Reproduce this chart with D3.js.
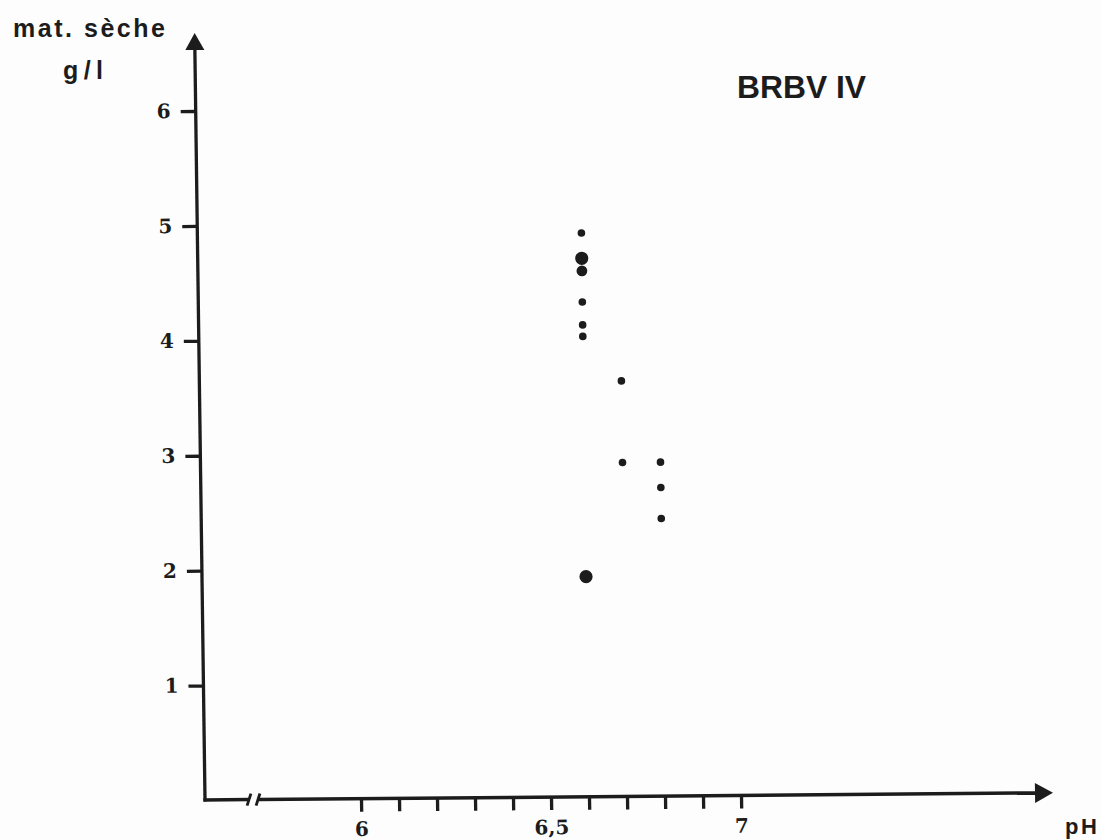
<!DOCTYPE html>
<html>
<head>
<meta charset="utf-8">
<script src="https://cdn.jsdelivr.net/npm/d3@7"></script>
<style>
  html, body { margin: 0; padding: 0; background: #fdfdfd; }
  svg { display: block; }
</style>
</head>
<body>
<svg id="chart" width="1101" height="840"></svg>
<script>
// pH and dry matter (g/l) of the BRBV IV samples
const phValues   = [6.6, 6.6, 6.6, 6.6, 6.6, 6.6, 6.6, 6.7, 6.7, 6.8, 6.8, 6.8];
const dryMatter  = [4.91, 4.69, 4.58, 4.31, 4.11, 4.01, 1.92, 3.62, 2.91, 2.91, 2.69, 2.42];
const sampleCount = [1, 3, 2, 1, 1, 1, 3, 1, 1, 1, 1, 1];

const yTickValues = [1, 2, 3, 4, 5, 6];
const xTickValues = [6, 6.1, 6.2, 6.3, 6.4, 6.5, 6.6, 6.7, 6.8, 6.9, 7];
const xLabelValues = [6, 6.5, 7];
const xLabelText = ["6", "6,5", "7"];

const ink = "#1c1c1c";
const svg = d3.select("#chart");

// axis origin (corner of the two axes)
const ox = 205, oy = 800;

const x = d3.scaleLinear().domain([6, 7]).range([361, 741]);
const y = d3.scaleLinear().domain([0, 6]).range([800.5, 111]);
const r = d3.scaleSqrt().domain([0, 3]).range([0, 6.6]);

// the hand-drawn frame leans slightly
const plot = svg.append("g")
  .attr("transform", `translate(${ox},${oy}) matrix(1,-0.0085,0.0135,1,0,0) translate(${-ox},${-oy})`);

// vertical axis with arrow
plot.append("line")
  .attr("x1", ox).attr("y1", oy + 1.5).attr("x2", ox).attr("y2", 46)
  .attr("stroke", ink).attr("stroke-width", 3.3);
plot.append("path")
  .attr("d", `M${ox},33 L${ox - 9.5},50 L${ox + 9.5},50 Z`)
  .attr("fill", ink);

// horizontal axis: short stub, break marks, then the scaled part with arrow
plot.append("line")
  .attr("x1", ox - 1.6).attr("y1", oy).attr("x2", 250).attr("y2", oy)
  .attr("stroke", ink).attr("stroke-width", 3.5);
plot.append("line")
  .attr("x1", 247).attr("y1", oy + 6).attr("x2", 251).attr("y2", oy - 6)
  .attr("stroke", ink).attr("stroke-width", 2.8);
plot.append("line")
  .attr("x1", 256).attr("y1", oy + 6).attr("x2", 260).attr("y2", oy - 6)
  .attr("stroke", ink).attr("stroke-width", 2.8);
plot.append("line")
  .attr("x1", 258).attr("y1", oy).attr("x2", 1038).attr("y2", oy)
  .attr("stroke", ink).attr("stroke-width", 3.5);
plot.append("path")
  .attr("d", `M1053,${oy} L1035,${oy - 10} L1035,${oy + 10} Z`)
  .attr("fill", ink);

// y ticks
const yAxis = plot.append("g")
  .attr("transform", `translate(${ox},0)`)
  .call(d3.axisLeft(y).tickValues(yTickValues).tickSize(15).tickPadding(10).tickFormat(d3.format("d")));
yAxis.select(".domain").remove();
yAxis.selectAll(".tick line").attr("stroke", ink).attr("stroke-width", 3.3);
yAxis.selectAll(".tick text")
  .attr("fill", ink)
  .attr("font-family", "'DejaVu Serif', serif")
  .attr("font-weight", "bold")
  .attr("font-size", 20);

// x ticks
const xAxis = plot.append("g")
  .attr("transform", `translate(0,${oy})`)
  .call(d3.axisBottom(x).tickValues(xTickValues).tickSize(13).tickPadding(10)
    .tickFormat(d => {
      const i = xLabelValues.findIndex(v => Math.abs(v - d) < 1e-9);
      return i >= 0 ? xLabelText[i] : "";
    }));
xAxis.select(".domain").remove();
xAxis.selectAll(".tick line").attr("stroke", ink).attr("stroke-width", 3.3);
xAxis.selectAll(".tick text")
  .attr("fill", ink)
  .attr("font-family", "'DejaVu Serif', serif")
  .attr("font-weight", "bold")
  .attr("font-size", 20);

// sample points, sized by the number of samples at a position
plot.append("g")
  .selectAll("circle")
  .data(phValues.map((p, i) => ({ ph: p, dm: dryMatter[i], n: sampleCount[i] })))
  .join("circle")
  .attr("cx", d => x(d.ph))
  .attr("cy", d => y(d.dm))
  .attr("r", d => r(d.n))
  .attr("fill", ink);

// axis titles and chart title
svg.append("text")
  .attr("x", 13).attr("y", 37)
  .attr("textLength", 152).attr("lengthAdjust", "spacing")
  .attr("font-family", "'Liberation Sans', Arial, sans-serif")
  .attr("font-weight", "bold").attr("font-size", 25)
  .attr("fill", ink)
  .text("mat. sèche");
svg.append("text")
  .attr("x", 63).attr("y", 79)
  .attr("textLength", 40).attr("lengthAdjust", "spacing")
  .attr("font-family", "'Liberation Sans', Arial, sans-serif")
  .attr("font-weight", "bold").attr("font-size", 25)
  .attr("fill", ink)
  .text("g/l");
svg.append("text")
  .attr("x", 1065).attr("y", 834)
  .attr("textLength", 32).attr("lengthAdjust", "spacing")
  .attr("font-family", "'Liberation Sans', Arial, sans-serif")
  .attr("font-weight", "bold").attr("font-size", 22)
  .attr("fill", ink)
  .text("pH");
svg.append("text")
  .attr("x", 737).attr("y", 98)
  .attr("textLength", 129).attr("lengthAdjust", "spacingAndGlyphs")
  .attr("font-family", "'Liberation Sans', Arial, sans-serif")
  .attr("font-weight", "bold").attr("font-size", 31)
  .attr("fill", ink)
  .text("BRBV IV");
</script>
</body>
</html>
